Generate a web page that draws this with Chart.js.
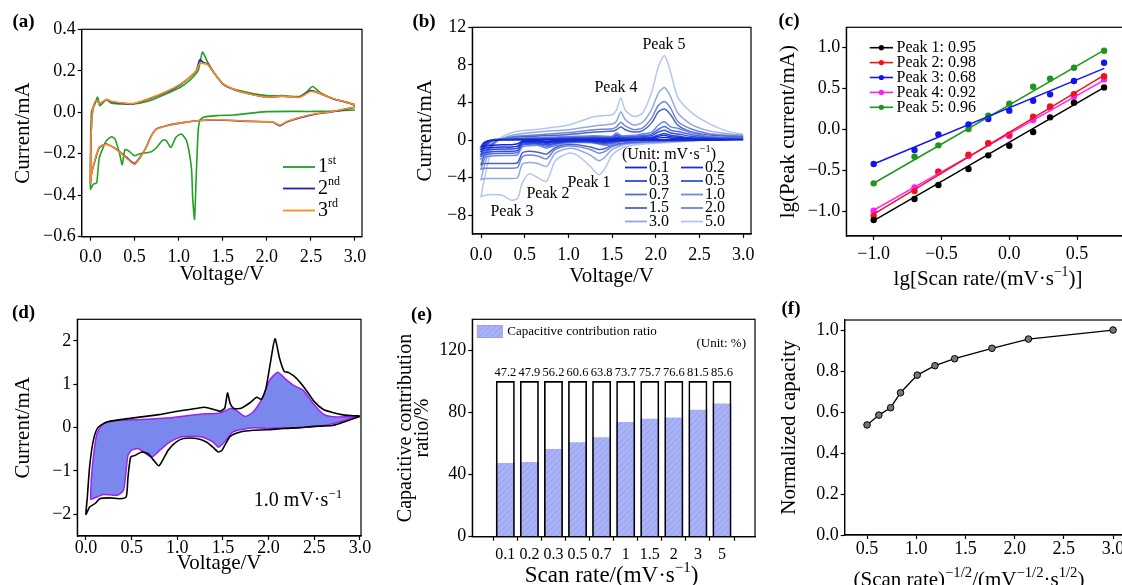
<!DOCTYPE html>
<html><head><meta charset="utf-8">
<script src="https://cdn.jsdelivr.net/npm/chart.js@4.4.1/dist/chart.umd.min.js"></script>
<style>
html,body{margin:0;padding:0;background:#fff;width:1122px;height:585px;overflow:hidden;position:relative}
canvas{position:absolute;left:0;top:0;width:1160px;height:585px}
</style></head><body>
<canvas id="ca" width="1160" height="585"></canvas>
<canvas id="cb" width="1160" height="585"></canvas>
<canvas id="cc" width="1160" height="585"></canvas>
<canvas id="cd" width="1160" height="585"></canvas>
<canvas id="ce" width="1160" height="585"></canvas>
<canvas id="cf" width="1160" height="585"></canvas>
<script>
// ---------------- DATA ----------------
// (a) CV, first three cycles (V, mA)
const a1V = [3.0,2.75,2.5,2.0,1.62,1.43,1.28,1.24,1.22,1.2,1.18,1.16,1.145,1.09,1.03,0.97,0.91,0.86,0.82,0.75,0.69,0.56,0.5,0.43,0.39,0.36,0.33,0.28,0.24,0.18,0.1,0.07,0.03,0.0,
             0.01,0.05,0.08,0.105,0.14,0.18,0.24,0.48,0.67,0.86,1.01,1.13,1.22,1.27,1.33,1.41,1.52,1.69,2.0,2.18,2.37,2.45,2.52,2.6,2.75,2.94,3.0];
const a1I = [0.011,0.005,0.004,0.003,-0.013,-0.016,-0.024,-0.04,-0.1,-0.3,-0.515,-0.42,-0.27,-0.137,-0.105,-0.12,-0.17,-0.137,-0.134,-0.17,-0.19,-0.2,-0.21,-0.185,-0.18,-0.253,-0.2,-0.13,-0.118,-0.137,-0.22,-0.34,-0.347,-0.37,
             0.0,0.04,0.073,0.032,0.045,0.061,0.044,0.04,0.056,0.089,0.118,0.156,0.2,0.29,0.24,0.185,0.13,0.105,0.08,0.08,0.076,0.097,0.124,0.097,0.065,0.044,0.032];
const a2V = [3.0,2.75,2.56,2.37,2.22,2.15,2.07,1.8,1.43,1.24,1.05,0.86,0.75,0.69,0.63,0.56,0.5,0.41,0.29,0.18,0.1,0.05,0.01,0.0,
             0.005,0.02,0.05,0.08,0.1,0.18,0.24,0.48,0.67,0.86,1.01,1.13,1.2,1.24,1.28,1.33,1.41,1.5,1.58,1.69,2.0,2.18,2.37,2.5,2.6,2.75,3.0];
const a2I = [0.024,0.003,-0.008,-0.027,-0.048,-0.065,-0.048,-0.044,-0.037,-0.04,-0.05,-0.065,-0.08,-0.113,-0.17,-0.218,-0.247,-0.218,-0.177,-0.153,-0.17,-0.234,-0.3,-0.34,
             -0.137,-0.008,0.048,0.056,0.04,0.06,0.05,0.04,0.065,0.097,0.13,0.17,0.2,0.253,0.24,0.232,0.185,0.137,0.118,0.1,0.073,0.077,0.073,0.105,0.09,0.065,0.037];
const a3I = [0.026,0.004,-0.006,-0.025,-0.046,-0.062,-0.047,-0.043,-0.036,-0.04,-0.05,-0.066,-0.082,-0.115,-0.172,-0.222,-0.252,-0.222,-0.178,-0.155,-0.168,-0.23,-0.3,-0.34,
             -0.13,-0.005,0.05,0.055,0.04,0.062,0.052,0.042,0.067,0.1,0.133,0.172,0.2,0.237,0.235,0.23,0.185,0.138,0.12,0.1,0.073,0.078,0.072,0.1,0.092,0.066,0.036];
const aLabels = ['1^{st}','2^{nd}','3^{rd}'];

// (b) CV at different scan rates (cathodic branch then anodic branch)
const bCathV = [3.0,2.7,2.4,2.1,1.9,1.7,1.6,1.5,1.42,1.35,1.25,1.1,1.0,0.85,0.75,0.65,0.55,0.47,0.42,0.35,0.25,0.12,0.04,0.0];
const bAnodV = [0.0,0.03,0.08,0.15,0.25,0.4,0.7,1.0,1.3,1.5,1.55,1.6,1.65,1.75,1.85,1.95,2.03,2.1,2.17,2.25,2.4,2.6,2.8,3.0];
const bRates = ['0.1','0.2','0.3','0.5','0.7','1.0','1.5','2.0','3.0','5.0'];
const b01 = [0.04,0.01,0,0,-0.01,-0.02,-0.03,-0.07,-0.1,-0.08,-0.05,-0.04,-0.05,-0.1,-0.15,-0.1,-0.1,-0.13,-0.4,-0.5,-0.5,-0.55,-0.6,-0.7,
             -0.7,-0.3,-0.08,0,0.02,0.03,0.04,0.05,0.07,0.06,0.12,0.07,0.06,0.08,0.1,0.12,0.22,0.28,0.2,0.16,0.1,0.06,0.04,0.04];
const b02 = [0.07,0.02,0,-0.01,-0.01,-0.03,-0.05,-0.12,-0.18,-0.15,-0.08,-0.07,-0.08,-0.18,-0.25,-0.18,-0.18,-0.23,-0.65,-0.75,-0.75,-0.8,-0.85,-0.95,
             -0.95,-0.5,-0.15,0,0.03,0.05,0.07,0.09,0.12,0.1,0.2,0.12,0.11,0.13,0.17,0.2,0.4,0.5,0.35,0.3,0.17,0.1,0.07,0.07];
const b03 = [0.1,0.03,0,-0.01,-0.02,-0.04,-0.07,-0.18,-0.25,-0.2,-0.12,-0.1,-0.12,-0.25,-0.35,-0.25,-0.25,-0.32,-0.85,-0.95,-0.95,-1.0,-1.1,-1.2,
             -1.2,-0.7,-0.2,0,0.05,0.07,0.1,0.13,0.17,0.15,0.3,0.18,0.17,0.2,0.25,0.3,0.55,0.7,0.5,0.42,0.25,0.14,0.1,0.1];
const b05 = [0.15,0.04,0,-0.02,-0.03,-0.05,-0.1,-0.25,-0.35,-0.28,-0.18,-0.15,-0.17,-0.35,-0.5,-0.35,-0.35,-0.45,-1.1,-1.2,-1.2,-1.25,-1.35,-1.5,
             -1.5,-0.9,-0.3,0,0.07,0.1,0.15,0.2,0.25,0.22,0.45,0.28,0.25,0.28,0.38,0.45,0.85,1.05,0.75,0.65,0.4,0.22,0.16,0.15];
const b07 = [0.2,0.05,0,-0.02,-0.04,-0.07,-0.12,-0.35,-0.45,-0.35,-0.22,-0.2,-0.22,-0.45,-0.65,-0.45,-0.45,-0.55,-1.3,-1.4,-1.4,-1.45,-1.55,-1.7,
             -1.7,-1.1,-0.4,0,0.1,0.15,0.2,0.28,0.35,0.3,0.6,0.38,0.35,0.38,0.5,0.6,1.15,1.45,1.05,0.9,0.6,0.3,0.22,0.2];
const b10 = [0.27,0.08,0,-0.03,-0.05,-0.1,-0.18,-0.5,-0.55,-0.42,-0.28,-0.27,-0.3,-0.6,-0.85,-0.55,-0.6,-0.75,-1.55,-1.65,-1.65,-1.7,-1.85,-2.0,
             -2.0,-1.4,-0.5,0.05,0.15,0.2,0.28,0.38,0.47,0.4,0.78,0.48,0.45,0.5,0.68,0.8,1.6,1.95,1.4,1.25,0.8,0.4,0.3,0.27];
const b15 = [0.35,0.05,-0.05,-0.1,-0.15,-0.25,-0.35,-0.55,-0.9,-1.0,-0.75,-0.5,-0.45,-0.8,-1.5,-1.3,-1.2,-1.4,-2.4,-2.5,-2.5,-2.5,-2.5,-2.6,
             -2.6,-1.8,-0.9,-0.2,0.1,0.3,0.45,0.6,0.85,0.95,1.1,1.4,1.1,0.85,1.0,1.8,3.0,3.3,2.7,1.6,0.9,0.55,0.4,0.35];
const b20 = [0.4,0.05,-0.05,-0.15,-0.2,-0.3,-0.45,-0.7,-1.2,-1.4,-1.0,-0.7,-0.6,-1.0,-2.0,-1.7,-1.6,-1.8,-2.9,-3.0,-3.0,-3.0,-3.0,-3.1,
             -3.1,-2.2,-1.2,-0.3,0.15,0.4,0.6,0.8,1.1,1.2,1.4,1.9,1.5,1.1,1.3,2.3,3.7,4.1,3.4,2.0,1.2,0.7,0.5,0.4];
const b30 = [0.5,0.1,-0.05,-0.2,-0.3,-0.4,-0.6,-1.0,-1.8,-2.2,-1.6,-1.0,-0.9,-1.4,-2.8,-2.5,-2.4,-2.6,-4.0,-4.1,-4.1,-4.1,-4.1,-4.2,
             -4.2,-3.0,-1.6,-0.4,0.2,0.6,0.9,1.1,1.5,1.7,2.0,3.0,2.2,1.6,1.9,3.2,5.0,5.6,4.6,2.9,1.7,1.0,0.7,0.5];
const b50 = [0.6,0.1,-0.1,-0.3,-0.4,-0.6,-0.9,-1.6,-3.0,-3.7,-2.8,-1.6,-1.4,-2.2,-4.4,-4.0,-3.6,-4.6,-6.2,-6.4,-5.9,-5.8,-5.9,-6.0,
             -6.0,-4.5,-2.4,-0.5,0.4,0.9,1.2,1.6,2.5,2.7,3.2,4.5,3.2,2.5,2.9,5.0,7.8,9.0,7.2,4.6,3.0,1.8,1.0,0.6];
const bColors = ['#1428d2','#1a30dc','#2a44e0','#3450dc','#4d6ae2','#6f88e6','#4e63c4','#7186d0','#93a8e2','#b4c6ee'];

// (c) lg(peak current) vs lg(scan rate)
const cLogRate = [-1.0,-0.699,-0.523,-0.301,-0.155,0.0,0.176,0.301,0.477,0.699];
const cPeak1 = [-1.11,-0.853,-0.682,-0.486,-0.318,-0.2,-0.033,0.147,0.327,0.514];
const cPeak2 = [-1.057,-0.755,-0.52,-0.31,-0.17,-0.065,0.155,0.28,0.43,0.65];
const cPeak3 = [-0.424,-0.253,-0.061,0.061,0.127,0.229,0.351,0.429,0.592,0.816];
const cPeak4 = [-0.996,-0.71,-0.518,-0.327,-0.171,-0.082,0.114,0.269,0.4,0.612];
const cPeak5 = [-0.661,-0.335,-0.196,0.004,0.167,0.314,0.522,0.62,0.755,0.963];
const cFitX = [-1.0,0.7];
const cFit1 = [-1.118,0.514];
const cFit2 = [-1.037,0.665];
const cFit3 = [-0.424,0.747];
const cFit4 = [-0.988,0.604];
const cFit5 = [-0.66,0.97];
const cLabels = ['Peak 1: 0.95','Peak 2: 0.98','Peak 3: 0.68','Peak 4: 0.92','Peak 5: 0.96'];
const cColors = ['#000000','#f01414','#1414f0','#ff1eff','#1e961e'];

// (d) total CV at 1.0 mV/s and capacitive part
const dTotV = [3.0,2.85,2.7,2.5,2.34,2.16,1.98,1.83,1.69,1.58,1.53,1.49,1.45,1.39,1.32,1.21,1.07,0.99,0.9,0.8,0.74,0.68,0.61,0.54,0.49,0.46,0.44,0.37,0.26,0.15,0.1,0.04,0.0,
               0.015,0.04,0.08,0.13,0.23,0.5,0.8,1.0,1.2,1.3,1.4,1.47,1.52,1.55,1.58,1.62,1.7,1.8,1.87,1.92,1.97,2.02,2.07,2.12,2.17,2.22,2.3,2.4,2.5,2.6,2.7,2.8,2.9,3.0];
const dTotI = [0.26,0.15,0.05,0.03,0.0,-0.02,-0.05,-0.06,-0.1,-0.2,-0.37,-0.52,-0.56,-0.45,-0.33,-0.25,-0.25,-0.33,-0.52,-0.88,-0.75,-0.6,-0.56,-0.64,-0.68,-1.14,-1.6,-1.64,-1.62,-1.64,-1.75,-1.83,-2.0,
               -1.6,-0.9,-0.3,0.0,0.13,0.22,0.3,0.38,0.44,0.47,0.42,0.38,0.45,0.8,0.55,0.44,0.45,0.58,0.7,0.65,0.9,1.5,2.05,1.6,1.3,1.27,1.15,0.9,0.6,0.42,0.35,0.3,0.28,0.27];
const dCapV = [0.05,0.06,0.09,0.12,0.17,0.26,0.52,0.88,1.25,1.47,1.58,1.63,1.74,1.83,1.94,2.01,2.1,2.18,2.27,2.38,2.49,2.6,2.7,2.88,2.98,
               2.85,2.7,2.53,2.34,2.16,1.98,1.83,1.69,1.61,1.56,1.5,1.45,1.39,1.28,1.14,1.03,0.92,0.81,0.72,0.63,0.57,0.5,0.46,0.44,0.41,0.34,0.19,0.12,0.05];
const dCapI = [-1.66,-1.14,-0.52,-0.14,0.05,0.15,0.18,0.22,0.31,0.34,0.44,0.42,0.26,0.36,0.71,1.09,1.28,1.13,0.98,0.86,0.55,0.31,0.25,0.25,0.26,
               0.18,0.09,0.03,0.0,0.0,-0.02,0.0,-0.05,-0.1,-0.22,-0.37,-0.45,-0.33,-0.22,-0.2,-0.22,-0.33,-0.52,-0.68,-0.56,-0.48,-0.52,-0.64,-0.98,-1.45,-1.56,-1.54,-1.6,-1.66];

// (e) capacitive contribution ratio
const eRates = ['0.1','0.2','0.3','0.5','0.7','1','1.5','2','3','5'];
const eCap = [47.2,47.9,56.2,60.6,63.8,73.7,75.7,76.6,81.5,85.6];
const eTotal = [100,100,100,100,100,100,100,100,100,100];

// (f) normalized capacity
const fX = [0.5,0.62,0.74,0.84,1.01,1.19,1.39,1.77,2.14,3.0];
const fY = [0.537,0.585,0.621,0.694,0.780,0.826,0.860,0.911,0.956,1.0];

// ---------------- HELPERS ----------------
const SERIF = "'Liberation Serif','Times New Roman',Times,serif";
Chart.defaults.font.family = SERIF;
Chart.defaults.color = '#000';
const CW = 1160, CH = 585;
const pts = (xs, ys) => xs.map((x, k) => ({x: x, y: ys[k]}));
const fmt = d => v => Number(v).toFixed(d).replace('-', '\u2212');

function drawRich(ctx, s, x, y, size, align, bold, supScale) {
  const sc = supScale || 0.65;
  const parts = []; const re = /\^\{([^}]*)\}/g; let last = 0, m;
  while ((m = re.exec(s))) {
    if (m.index > last) parts.push({t: s.slice(last, m.index), sup: false});
    parts.push({t: m[1], sup: true}); last = re.lastIndex;
  }
  if (last < s.length) parts.push({t: s.slice(last), sup: false});
  const f = sz => (bold ? 'bold ' : '') + sz + 'px ' + SERIF;
  let w = 0;
  parts.forEach(p => { ctx.font = f(p.sup ? size * sc : size); p.w = ctx.measureText(p.t).width; w += p.w; });
  let cx = align === 'center' ? x - w / 2 : align === 'right' ? x - w : x;
  ctx.textBaseline = 'middle'; ctx.textAlign = 'left'; ctx.fillStyle = '#000';
  parts.forEach(p => { ctx.font = f(p.sup ? size * sc : size); ctx.fillText(p.t, cx, p.sup ? y - size * 0.33 : y); cx += p.w; });
}

const framePlugin = {
  id: 'frame',
  afterDraw(chart) {
    const {ctx, chartArea: a} = chart;
    ctx.save(); ctx.strokeStyle = '#000'; ctx.lineWidth = 1.2;
    ctx.strokeRect(a.left, a.top, a.right - a.left, a.bottom - a.top);
    ctx.restore();
  }
};
function annot(items) {
  return {
    id: 'annot',
    afterDraw(chart) {
      const ctx = chart.ctx;
      items.forEach(it => {
        ctx.save();
        if (it.type === 'line') {
          ctx.strokeStyle = it.color; ctx.lineWidth = it.width || 1.5;
          ctx.beginPath(); ctx.moveTo(it.x1, it.y); ctx.lineTo(it.x2, it.y); ctx.stroke();
          if (it.dot) { ctx.fillStyle = it.color; ctx.beginPath(); ctx.arc((it.x1 + it.x2) / 2, it.y, it.dot, 0, Math.PI * 2); ctx.fill(); }
        } else if (it.type === 'rect') {
          ctx.fillStyle = it.fill; ctx.fillRect(it.x, it.y, it.w, it.h);
          if (it.stroke) { ctx.strokeStyle = it.stroke; ctx.lineWidth = 0.8; ctx.strokeRect(it.x, it.y, it.w, it.h); }
        } else {
          drawRich(ctx, it.text, it.x, it.y, it.size, it.align || 'left', it.bold, it.sup);
        }
        ctx.restore();
      });
    }
  };
}

function axis(min, max, ticks, fmtFn, fontSize, pad) {
  return {
    type: 'linear', min: min, max: max,
    afterBuildTicks: s => { s.ticks = ticks.map(v => ({value: v})); },
    ticks: {font: {size: fontSize}, color: '#000', callback: fmtFn, autoSkip: false, maxRotation: 0, minRotation: 0, padding: pad},
    grid: {display: true, drawOnChartArea: false, drawTicks: true, tickLength: 4, tickWidth: 1.2, tickColor: '#000', color: '#000'},
    border: {display: true, color: '#000', width: 1.2}
  };
}

function makeChart(id, type, p, o, datasets, items, extraPlugins) {
  const yLH = o.yTitleSize * (o.yTitleLH || 1);
  const padLeft = p.ytx - yLH / 2 - 2;
  const xTS = 21;
  const xH = o.xTitle ? (p.xty + xTS / 2 + 2 - p.b) : 40;
  const padBottom = CH - p.b - xH;
  const xPad = p.xly - p.b - 4 - 0.6 * o.xFont;
  const xs = axis(o.xMin, o.xMax, o.xTicks, o.xFmt, o.xFont, xPad);
  xs.position = 'bottom';
  xs.afterFit = s => { s.height = xH; };
  xs.title = o.xTitle ? {display: true, text: o.xTitle, font: {size: xTS, lineHeight: 1}, color: '#000', padding: {top: 0, bottom: 2}} : {display: false};
  const ys = axis(o.yMin, o.yMax, o.yTicks, o.yFmt, o.yFont, 2);
  ys.position = 'left';
  ys.afterFit = s => { s.width = p.l - padLeft; };
  ys.title = {display: true, text: o.yTitle, font: {size: o.yTitleSize, lineHeight: o.yTitleLH || 1}, color: '#000', padding: {top: 2, bottom: 0}};
  return new Chart(document.getElementById(id), {
    type: type,
    data: {datasets: datasets},
    options: {
      responsive: false, animation: false, events: [],
      layout: {padding: {left: padLeft, top: p.t, right: CW - p.r, bottom: padBottom}},
      scales: {x: xs, y: ys},
      plugins: {legend: {display: false}, tooltip: {enabled: false}}
    },
    plugins: [framePlugin, annot(items)].concat(extraPlugins || [])
  });
}
const LBL = (t, x, y) => ({type: 'text', text: t, x: x, y: y, size: 19, align: 'center', bold: true});

// ---------------- (a) ----------------
(function () {
  const cols = ['#22a022', '#2020c0', '#ff8c1a'];
  const ds = [
    {data: pts(a2V, a3I), borderColor: cols[2]},
    {data: pts(a2V, a2I), borderColor: cols[1]},
    {data: pts(a1V, a1I), borderColor: cols[0]}
  ].map(d => Object.assign(d, {showLine: true, pointRadius: 0, borderWidth: 1.6, tension: 0.2}));
  const items = [LBL('(a)', 23.5, 22)];
  aLabels.forEach((t, i) => {
    const y = [167, 188.5, 210.5][i];
    items.push({type: 'line', x1: 283, x2: 315, y: y, color: cols[i], width: 1.8});
    items.push({type: 'text', text: t, x: 318, y: y, size: 20, align: 'left', sup: 0.6});
  });
  makeChart('ca', 'scatter', {l: 81.7, t: 29.3, r: 362, b: 236.7, ytx: 23, xty: 274, xly: 257.7},
    {xMin: -0.1, xMax: 3.08, xTicks: [0, 0.5, 1, 1.5, 2, 2.5, 3], xFmt: fmt(1), xFont: 18, xTitle: 'Voltage/V',
     yMin: -0.6, yMax: 0.4, yTicks: [-0.6, -0.4, -0.2, 0, 0.2, 0.4], yFmt: fmt(1), yFont: 18, yTitle: 'Current/mA', yTitleSize: 21},
    ds, items);
})();

// ---------------- (b) ----------------
(function () {
  const series = [b01, b02, b03, b05, b07, b10, b15, b20, b30, b50];
  const bV = bCathV.concat(bAnodV);
  const ds = series.map((s, i) => ({data: pts(bV, s), borderColor: bColors[i], showLine: true, pointRadius: 0, borderWidth: 1.5, tension: 0.25}));
  const items = [LBL('(b)', 424, 22),
    {type: 'text', text: 'Peak 5', x: 664, y: 45, size: 16, align: 'center'},
    {type: 'text', text: 'Peak 4', x: 616, y: 88, size: 16, align: 'center'},
    {type: 'text', text: 'Peak 1', x: 589, y: 183, size: 16, align: 'center'},
    {type: 'text', text: 'Peak 2', x: 548, y: 194, size: 16, align: 'center'},
    {type: 'text', text: 'Peak 3', x: 512, y: 212, size: 16, align: 'center'},
    {type: 'text', text: '(Unit: mV\u00b7s^{\u22121})', x: 669, y: 154.5, size: 16, align: 'center'}];
  bRates.forEach((r, i) => {
    const col = i % 2, row = Math.floor(i / 2);
    const y = 167.5 + 13.5 * row;
    const x1 = col ? 681 : 625;
    items.push({type: 'line', x1: x1, x2: x1 + 22, y: y, color: bColors[i], width: 1.8});
    items.push({type: 'text', text: r, x: x1 + 24, y: y, size: 16, align: 'left'});
  });
  makeChart('cb', 'scatter', {l: 472.3, t: 27.3, r: 751, b: 234, ytx: 425.7, xty: 276.7, xly: 255.7},
    {xMin: -0.1, xMax: 3.09, xTicks: [0, 0.5, 1, 1.5, 2, 2.5, 3], xFmt: fmt(1), xFont: 18, xTitle: 'Voltage/V',
     yMin: -10, yMax: 12, yTicks: [-8, -4, 0, 4, 8, 12], yFmt: fmt(0), yFont: 18, yTitle: 'Current/mA', yTitleSize: 21},
    ds, items);
})();

// ---------------- (c) ----------------
(function () {
  const peaks = [cPeak1, cPeak2, cPeak3, cPeak4, cPeak5];
  const fits = [cFit1, cFit2, cFit3, cFit4, cFit5];
  const ds = [];
  fits.forEach((f, i) => ds.push({data: pts(cFitX, f), showLine: true, pointRadius: 0, borderColor: cColors[i], borderWidth: 1.5}));
  peaks.forEach((pk, i) => ds.push({data: pts(cLogRate, pk), showLine: false, pointRadius: 3.2, pointBackgroundColor: cColors[i], pointBorderColor: cColors[i], pointBorderWidth: 0}));
  const items = [LBL('(c)', 789, 21),
    {type: 'text', text: 'lg[Scan rate/(mV\u00b7s^{\u22121})]', x: 988, y: 279, size: 21, align: 'center'}];
  cLabels.forEach((t, i) => {
    const y = 47.7 + 14.9 * i;
    items.push({type: 'line', x1: 869.7, x2: 893, y: y, color: cColors[i], width: 1.6, dot: 2.6});
    items.push({type: 'text', text: t, x: 896.5, y: y, size: 16, align: 'left'});
  });
  makeChart('cc', 'scatter', {l: 846.3, t: 27.3, r: 1127, b: 236, ytx: 788.8, xly: 254},
    {xMin: -1.202, xMax: 0.868, xTicks: [-1, -0.5, 0, 0.5], xFmt: fmt(1), xFont: 18, xTitle: null,
     yMin: -1.306, yMax: 1.25, yTicks: [-1, -0.5, 0, 0.5, 1], yFmt: fmt(1), yFont: 18, yTitle: 'lg(Peak current/mA)', yTitleSize: 21},
    ds, items);
})();

// ---------------- (d) ----------------
(function () {
  const ds = [
    {data: pts(dTotV, dTotI), showLine: true, pointRadius: 0, borderColor: '#000', borderWidth: 1.6, tension: 0.2, fill: false},
    {data: pts(dCapV, dCapI), showLine: true, pointRadius: 0, borderColor: '#a020f0', borderWidth: 1.5, tension: 0.2, fill: 'shape', backgroundColor: '#7a88ee'}
  ];
  const items = [LBL('(d)', 23.5, 313),
    {type: 'text', text: '1.0 mV\u00b7s^{\u22121}', x: 298, y: 501, size: 20, align: 'center'}];
  makeChart('cd', 'scatter', {l: 77.3, t: 319.3, r: 361, b: 536, ytx: 23.3, xty: 563.3, xly: 548.7},
    {xMin: -0.095, xMax: 3.012, xTicks: [0, 0.5, 1, 1.5, 2, 2.5, 3], xFmt: fmt(1), xFont: 18, xTitle: 'Voltage/V',
     yMin: -2.5, yMax: 2.5, yTicks: [-2, -1, 0, 1, 2], yFmt: fmt(0), yFont: 18, yTitle: 'Current/mA', yTitleSize: 21},
    ds, items);
})();

// ---------------- (e) ----------------
(function () {
  const pc = document.createElement('canvas'); pc.width = 6; pc.height = 6;
  const g = pc.getContext('2d');
  g.fillStyle = '#a9b2f4'; g.fillRect(0, 0, 6, 6);
  g.strokeStyle = '#939ded'; g.lineWidth = 0.9;
  g.beginPath(); g.moveTo(0, 6); g.lineTo(6, 0); g.moveTo(-1, 1); g.lineTo(1, -1); g.moveTo(5, 7); g.lineTo(7, 5); g.stroke();
  const hatch = g.createPattern(pc, 'repeat');
  const ds = [
    {data: pts([0,1,2,3,4,5,6,7,8,9], eTotal), backgroundColor: 'rgba(0,0,0,0)', borderColor: '#000', borderWidth: 1, barThickness: 18.3, grouped: false, order: 0},
    {data: pts([0,1,2,3,4,5,6,7,8,9], eCap), backgroundColor: hatch, borderWidth: 0, barThickness: 18.3, grouped: false, order: 1}
  ];
  const items = [LBL('(e)', 421.5, 315),
    {type: 'rect', x: 477.3, y: 325.5, w: 25, h: 12, fill: hatch, stroke: '#8c97e8'},
    {type: 'text', text: 'Capacitive contribution ratio', x: 507.3, y: 331.5, size: 13, align: 'left'},
    {type: 'text', text: '(Unit: %)', x: 746, y: 344, size: 13, align: 'right'},
    {type: 'text', text: 'Scan rate/(mV\u00b7s^{\u22121})', x: 611.5, y: 576, size: 23, align: 'center'}];
  const valuePlugin = {
    id: 'vals',
    afterDraw(chart) {
      const ctx = chart.ctx, sx = chart.scales.x, sy = chart.scales.y;
      ctx.save(); ctx.font = '12.5px ' + SERIF; ctx.fillStyle = '#000'; ctx.textAlign = 'center'; ctx.textBaseline = 'middle';
      eCap.forEach((v, i) => ctx.fillText(v.toFixed(1), sx.getPixelForValue(i), sy.getPixelForValue(eTotal[i]) - 8.5));
      ctx.restore();
    }
  };
  makeChart('ce', 'bar', {l: 472.3, t: 319.3, r: 755, b: 536.7, ytx: 405.7, xly: 555},
    {xMin: -0.785, xMax: 9.785, xTicks: [0,1,2,3,4,5,6,7,8,9], xFmt: v => eRates[v], xFont: 16, xTitle: null,
     yMin: 0, yMax: 140, yTicks: [0, 40, 80, 120], yFmt: fmt(0), yFont: 18, yTitle: ['Capacitive contribution', 'ratio/%'], yTitleSize: 20, yTitleLH: 0.83},
    ds, items, [valuePlugin]);
})();

// ---------------- (f) ----------------
(function () {
  const ds = [{data: pts(fX, fY), showLine: true, borderColor: '#000', borderWidth: 1.3, pointRadius: 3.3,
               pointBackgroundColor: '#777', pointBorderColor: '#000', pointBorderWidth: 1}];
  const items = [LBL('(f)', 791, 309),
    {type: 'text', text: '(Scan rate)^{\u22121/2}/(mV^{\u22121/2}\u00b7s^{1/2})', x: 969, y: 580, size: 21, align: 'center', sup: 0.7}];
  makeChart('cf', 'scatter', {l: 844.7, t: 320, r: 1133, b: 535, ytx: 789.7, xly: 549.2},
    {xMin: 0.273, xMax: 3.203, xTicks: [0.5, 1, 1.5, 2, 2.5, 3], xFmt: fmt(1), xFont: 18, xTitle: null,
     yMin: 0, yMax: 1.049, yTicks: [0, 0.2, 0.4, 0.6, 0.8, 1.0], yFmt: fmt(1), yFont: 18, yTitle: 'Normalized capacity', yTitleSize: 21},
    ds, items);
})();
</script>
</body></html>
